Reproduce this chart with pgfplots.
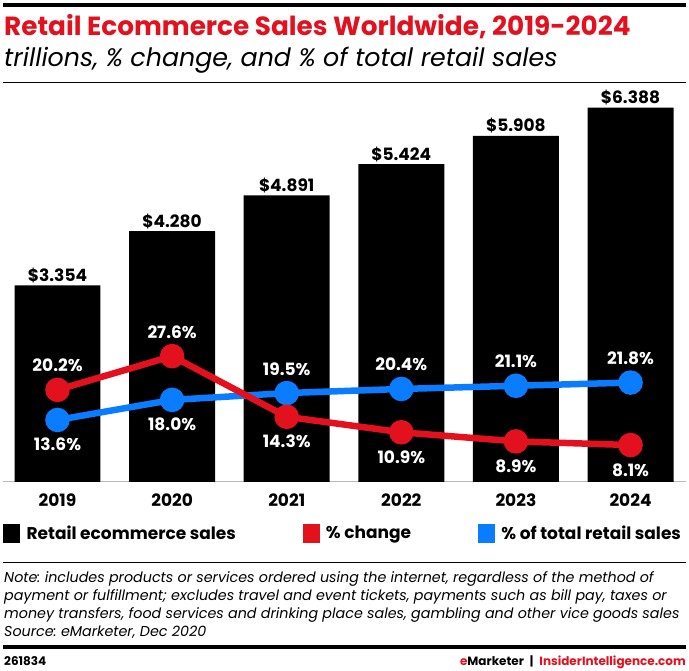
\documentclass[border=0pt]{standalone}
\usepackage{pgfplots}
\pgfplotsset{compat=1.18}
\usepackage{fontspec}
\setmainfont{Poppins}
\frenchspacing
\definecolor{emred}{HTML}{E3101E}
\definecolor{emblue}{HTML}{0A7CFF}
\newcommand\labfont{\bfseries\fontsize{17}{20}\selectfont}

\pgfplotstableread{
x y
0 3.354
1 4.280
2 4.891
3 5.424
4 5.908
5 6.388
}\sales

\pgfplotstableread{
x y off
0 20.2 18
1 27.6 18
2 14.3 -31
3 10.9 -31
4 8.9 -31
5 8.1 -31
}\change

\pgfplotstableread{
x y off
0 13.6 -31
1 18.0 -31
2 19.5 18
3 20.4 18
4 21.1 18
5 21.8 18
}\share

\begin{document}
\begin{tikzpicture}[x=1pt,y=1pt]
\useasboundingbox (0pt,0pt) rectangle (689pt,671pt);
% header
\fill[black] (3pt,664pt) rectangle (686pt,668pt);
\node[anchor=base west, inner sep=0, text=emred, font=\fontsize{26.3}{30}\selectfont\bfseries] at (4pt,635pt) {Retail Ecommerce Sales Worldwide, 2019-2024};
\node[anchor=base west, inner sep=0, font=\fontsize{25.3}{29}\selectfont\itshape] at (4pt,604pt) {trillions, \% change, and \% of total retail sales};
\draw[line width=0.8pt] (3pt,589pt) -- (686pt,589pt);

% bars
\begin{axis}[
  at={(3pt,189pt)}, anchor=south west,
  width=683pt, height=392pt, scale only axis,
  xmin=-0.4756, xmax=5.484,
  ymin=0, ymax=6.689,
  clip=false,
  /pgf/number format/assume math mode=true,
  axis y line=none,
  axis x line*=bottom,
  x axis line style={draw=gray!55, line width=1pt, -},
  xtick={0,1,2,3,4,5},
  xticklabels={2019,2020,2021,2022,2023,2024},
  xtick style={draw=none},
  xticklabel style={anchor=base, yshift=-25pt, inner sep=0pt, font=\labfont},
  ytick=\empty,
]
\addplot[ybar, bar width=0.75, fill=black, draw=none,
  nodes near coords={\$\pgfmathprintnumber[fixed,precision=3,zerofill]{\pgfplotspointmeta}},
  every node near coord/.style={anchor=base, yshift=4pt, inner sep=0pt, text=black, font=\labfont}
] table[x=x,y=y] {\sales};
\end{axis}

% lines
\begin{axis}[
  at={(3pt,189pt)}, anchor=south west,
  width=683pt, height=392pt, scale only axis,
  xmin=-0.4756, xmax=5.484,
  ymin=0, ymax=85.96,
  clip=false,
  hide axis,
  /pgf/number format/assume math mode=true,
  legend columns=3,
  legend style={draw=none, fill=none, inner sep=0pt, at={(0.0,-0.130)}, anchor=west,
    font=\bfseries\fontsize{17}{20}\selectfont,
    nodes={inner sep=0pt}},
]
\addlegendimage{legend image code/.code={\fill[black] (0pt,-9pt) rectangle (16pt,9pt);}}
\addlegendentry{\makebox[283pt][l]{\hspace*{7pt}Retail ecommerce sales}}
\addlegendimage{legend image code/.code={\fill[emred] (0pt,-9pt) rectangle (16pt,9pt);}}
\addlegendentry{\makebox[159pt][l]{\hspace*{7pt}\% change}}
\addlegendimage{legend image code/.code={\fill[emblue] (0pt,-9pt) rectangle (16pt,9pt);}}
\addlegendentry{\hspace*{7pt}\% of total retail sales}

\addplot[emblue, line width=6.5pt, mark=*, mark size=9pt, mark options={fill=emblue, draw=none}, forget plot,
  visualization depends on={\thisrow{off}\as\myoff},
  point meta=y,
  nodes near coords={\pgfmathprintnumber[fixed,precision=1,zerofill]{\pgfplotspointmeta}\%},
  every node near coord/.style={anchor=base, yshift=\myoff, inner sep=0pt, text=white, font=\labfont}
] table[x=x,y=y] {\share};
\addplot[emred, line width=6.5pt, mark=*, mark size=9pt, mark options={fill=emred, draw=none}, forget plot,
  visualization depends on={\thisrow{off}\as\myoff},
  point meta=y,
  nodes near coords={\pgfmathprintnumber[fixed,precision=1,zerofill]{\pgfplotspointmeta}\%},
  every node near coord/.style={anchor=base, yshift=\myoff, inner sep=0pt, text=white, font=\labfont}
] table[x=x,y=y] {\change};
\end{axis}

% footer
\draw[line width=0.8pt] (3pt,109pt) -- (686pt,109pt);
\begin{scope}[every node/.style={anchor=base west, inner sep=0, font=\fontsize{14.3}{17}\selectfont\itshape}]
\node at (4pt,88pt) {Note: includes products or services ordered using the internet, regardless of the method of};
\node at (4pt,70pt) {payment or fulfillment; excludes travel and event tickets, payments such as bill pay, taxes or};
\node at (4pt,52pt) {money transfers, food services and drinking place sales, gambling and other vice goods sales};
\node at (4pt,34pt) {Source: eMarketer, Dec 2020};
\end{scope}
\fill[black] (3pt,22pt) rectangle (686pt,26pt);
\node[anchor=base west, inner sep=0, font=\fontsize{12}{14}\selectfont\bfseries] at (4pt,5pt) {261834};
\node[anchor=base east, inner sep=0, font=\fontsize{12}{14}\selectfont\bfseries] at (686pt,5pt) {\textcolor{emred}{e}Marketer\enspace|\enspace\textcolor{emred}{InsiderIntelligence.com}};
\end{tikzpicture}
\end{document}
